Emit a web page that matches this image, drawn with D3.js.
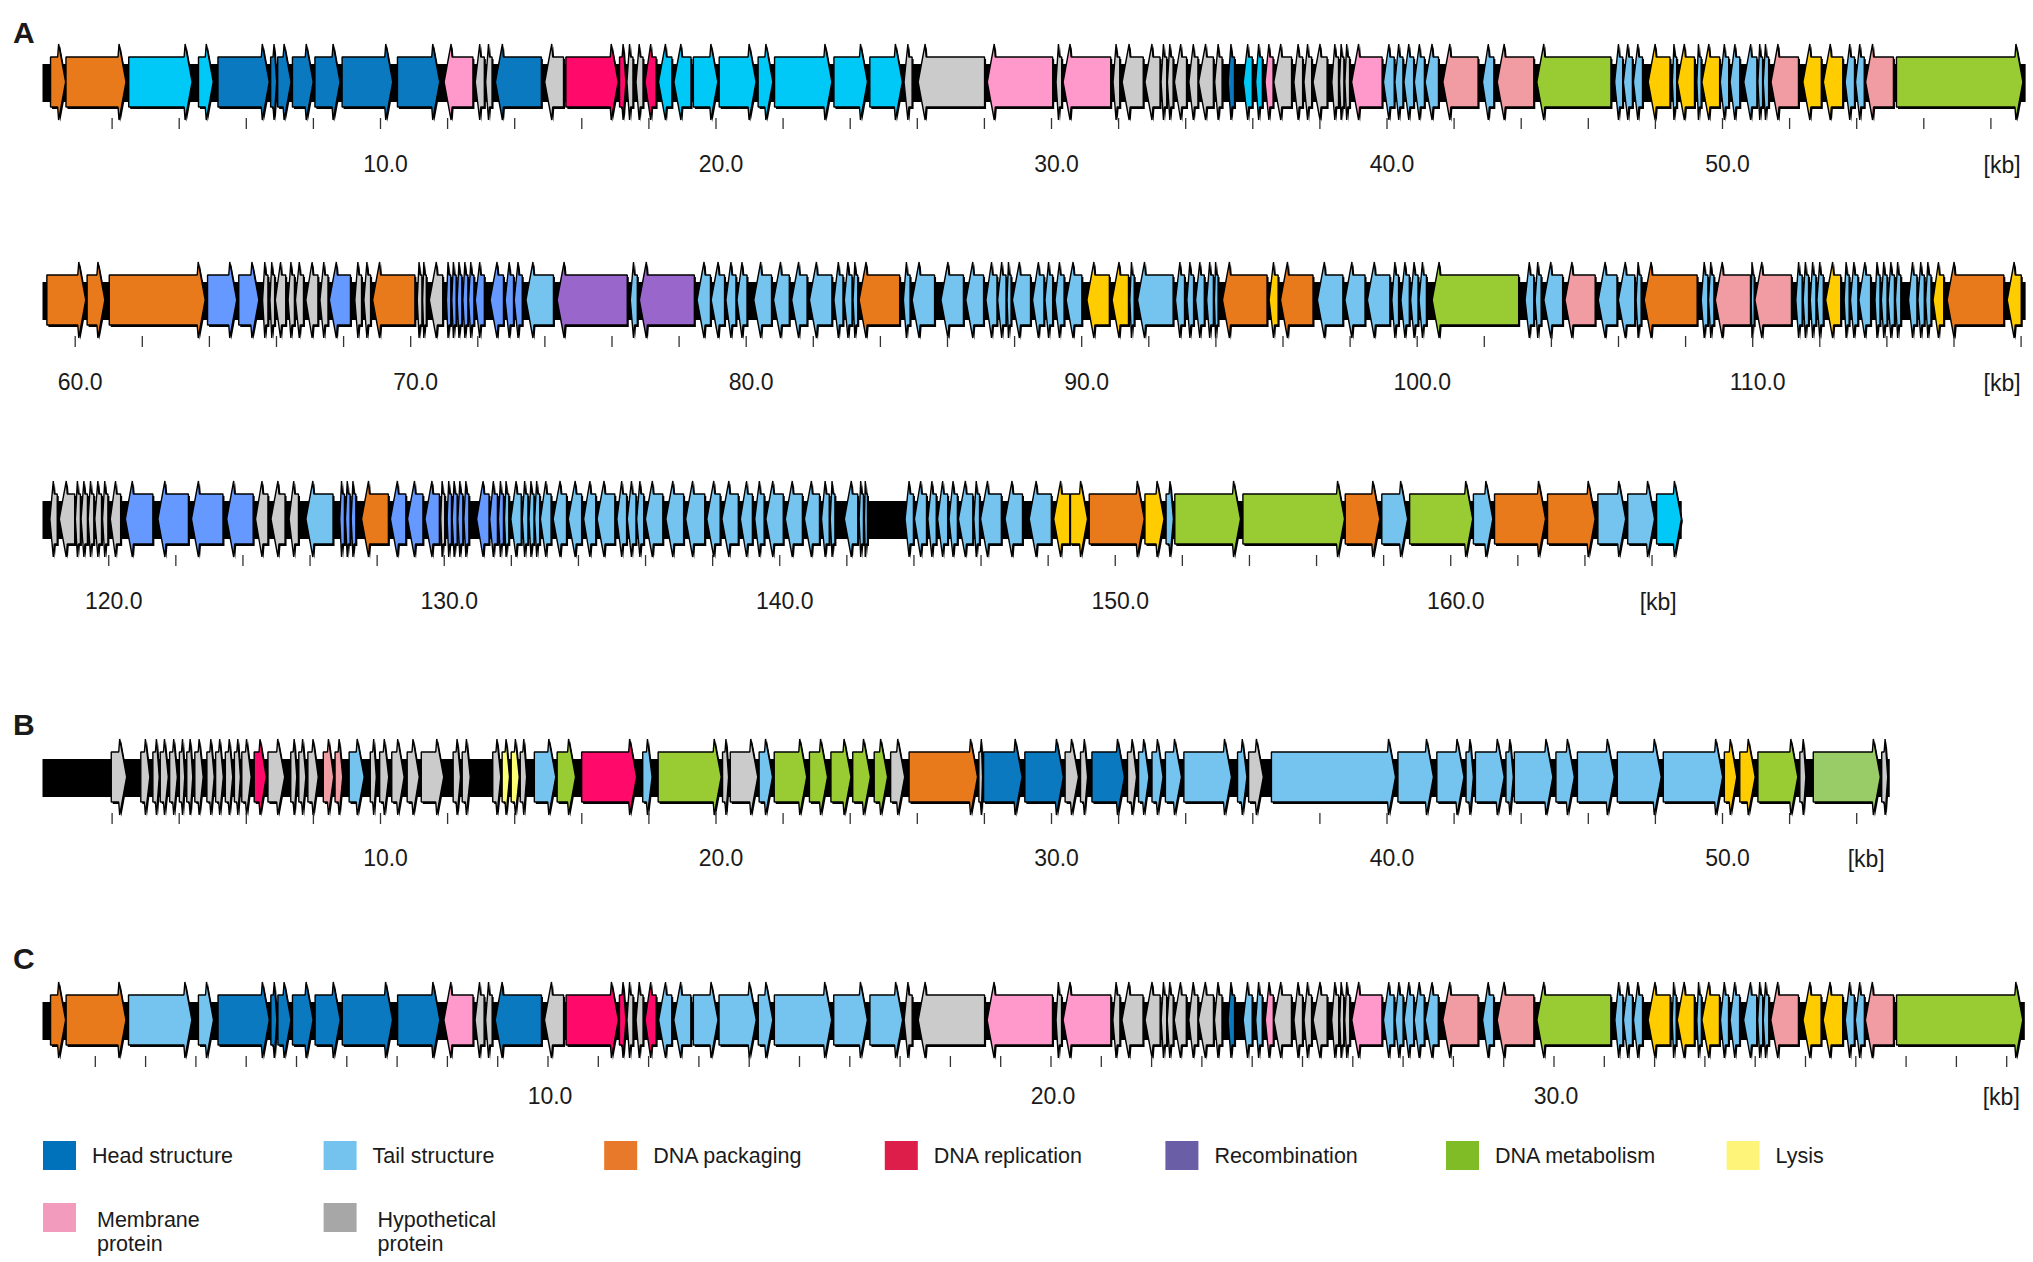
<!DOCTYPE html>
<html>
<head>
<meta charset="utf-8">
<script src="https://cdn.jsdelivr.net/npm/d3@7"></script>
<style>
  body { margin: 0; background: #fff; }
  svg { display: block; }
  text { font-family: "Liberation Sans", Arial, sans-serif; fill: #1a1a1a; }
</style>
</head>
<body>
<svg id="map" width="2033" height="1262"></svg>
<script>
// gene categories: fill used on the map
const geneFill = {
  pk: '#e87a1c', hd: '#0a79bf', tc: '#00c8f7', tl: '#74c4ef', cf: '#6699ff',
  rc: '#9966cc', rp: '#ff0a6a', mb: '#ff99cc', sm: '#f09ca2', hy: '#cbcbcb',
  mt: '#99cc33', m2: '#99cc66', ly: '#ffcc00', l2: '#ffff73'
};

// legend
const legendLabels = ['Head structure', 'Tail structure', 'DNA packaging', 'DNA replication',
  'Recombination', 'DNA metabolism', 'Lysis', 'Membrane\nprotein', 'Hypothetical\nprotein'];
const legendColors = ['#0072bc', '#74c3ef', '#e8792b', '#dd1d4a', '#6a5ea6', '#80bc26',
  '#fff47a', '#f29bbd', '#a7a7a7'];

// genome A, [start kb, end kb, strand, category]
const genesA = [
  [0.18,0.63,1,'pk'],[0.64,2.43,1,'pk'],[2.51,4.40,1,'tc'],[4.59,5.03,1,'tc'],[5.17,6.70,1,'hd'],
  [6.74,6.92,1,'hd'],[6.95,7.35,1,'hd'],[7.39,8.01,1,'hd'],[8.06,8.81,1,'hd'],[8.87,10.38,1,'hd'],
  [10.52,11.78,1,'hd'],[11.91,12.77,-1,'mb'],[12.84,13.11,-1,'hy'],[13.15,13.34,-1,'hy'],[13.44,14.81,-1,'hd'],
  [14.91,15.47,-1,'hy'],[15.54,17.10,1,'rp'],[17.14,17.33,1,'rp'],[17.36,17.54,-1,'hy'],[17.63,17.84,-1,'hy'],
  [17.90,18.23,-1,'rp'],[18.30,18.70,-1,'tc'],[18.76,19.27,-1,'tc'],[19.34,20.07,1,'tc'],[20.11,21.21,1,'tc'],
  [21.27,21.71,1,'tc'],[21.76,23.47,1,'tc'],[23.53,24.53,1,'tc'],[24.60,25.57,1,'tc'],[25.62,25.86,-1,'hy'],
  [26.04,28.02,-1,'hy'],[28.10,30.05,-1,'mb'],[30.15,30.32,-1,'hy'],[30.36,31.78,-1,'mb'],[31.85,32.05,-1,'hy'],
  [32.12,32.75,-1,'hy'],[32.80,33.25,-1,'hy'],[33.28,33.45,-1,'hy'],[33.47,33.64,-1,'hy'],[33.68,34.04,-1,'hy'],
  [34.11,34.38,-1,'hy'],[34.40,34.84,-1,'hy'],[34.88,35.10,-1,'hy'],[35.28,35.47,-1,'hd'],[35.73,36.00,-1,'tc'],
  [36.10,36.30,-1,'tc'],[36.38,36.62,-1,'mb'],[36.64,37.17,-1,'hy'],[37.24,37.50,-1,'hy'],[37.54,37.77,-1,'hy'],
  [37.81,38.23,-1,'hy'],[38.37,38.57,-1,'hy'],[38.60,38.73,-1,'hy'],[38.76,38.90,-1,'hy'],[38.96,39.87,-1,'mb'],
  [39.91,40.23,-1,'tl'],[40.25,40.49,-1,'tl'],[40.52,40.81,-1,'tl'],[40.83,41.13,-1,'tl'],[41.15,41.55,-1,'tl'],
  [41.68,42.73,-1,'sm'],[42.86,43.20,-1,'tl'],[43.30,44.39,-1,'sm'],[44.48,46.69,-1,'mt'],[46.80,47.04,-1,'tl'],
  [47.06,47.33,-1,'tl'],[47.36,47.63,-1,'tl'],[47.80,48.45,-1,'ly'],[48.52,48.65,-1,'tl'],[48.67,49.18,-1,'ly'],
  [49.25,49.38,-1,'tl'],[49.40,49.93,-1,'ly'],[49.95,50.20,-1,'tl'],[50.24,50.53,-1,'tl'],[50.65,51.04,-1,'tl'],
  [51.07,51.21,-1,'tl'],[51.23,51.39,-1,'tl'],[51.46,52.28,-1,'sm'],[52.41,52.96,-1,'ly'],[53.02,53.60,-1,'ly'],
  [53.67,53.95,-1,'tl'],[53.98,54.24,-1,'tl'],[54.28,55.11,-1,'sm'],[55.20,58.97,1,'mt'],
  // second line
  [59.17,60.33,1,'pk'],[60.37,60.90,1,'pk'],[61.03,63.89,1,'pk'],[63.96,64.83,1,'cf'],[64.89,65.49,1,'cf'],
  [65.60,65.76,-1,'hy'],[65.82,65.96,-1,'hy'],[65.98,66.29,-1,'hy'],[66.36,66.55,-1,'hy'],[66.58,66.82,-1,'hy'],
  [66.89,67.25,-1,'hy'],[67.31,67.55,-1,'hy'],[67.59,68.22,-1,'cf'],[68.35,68.55,-1,'hy'],[68.62,68.82,-1,'hy'],
  [68.88,70.14,-1,'pk'],[70.21,70.35,-1,'hy'],[70.37,70.48,-1,'hy'],[70.57,70.97,-1,'hy'],[71.08,71.21,-1,'cf'],
  [71.24,71.37,-1,'cf'],[71.40,71.54,-1,'cf'],[71.57,71.72,-1,'cf'],[71.74,71.90,-1,'cf'],[71.94,72.21,-1,'cf'],
  [72.38,72.78,-1,'cf'],[72.83,73.08,-1,'cf'],[73.10,73.34,-1,'cf'],[73.45,74.27,-1,'tl'],[74.38,76.47,-1,'rc'],
  [76.56,76.77,-1,'tl'],[76.83,78.47,-1,'rc'],[78.55,78.95,-1,'tl'],[78.97,79.37,-1,'tl'],[79.41,79.71,-1,'tl'],
  [79.74,80.04,-1,'tl'],[80.24,80.77,-1,'tl'],[80.83,81.30,-1,'tl'],[81.37,81.83,-1,'tl'],[81.90,82.57,-1,'tl'],
  [82.63,82.90,-1,'tl'],[82.94,83.17,-1,'tl'],[83.20,83.34,-1,'tl'],[83.38,84.59,-1,'pk'],[84.70,84.90,-1,'tl'],
  [84.96,85.63,-1,'tl'],[85.82,86.49,-1,'tl'],[86.56,87.09,-1,'tl'],[87.16,87.49,-1,'tl'],[87.51,87.76,-1,'tl'],
  [87.79,87.91,-1,'tl'],[87.95,88.49,-1,'tl'],[88.55,88.89,-1,'tl'],[88.92,89.15,-1,'tl'],[89.22,89.49,-1,'tl'],
  [89.55,90.02,-1,'tl'],[90.17,90.84,-1,'ly'],[90.92,91.41,-1,'ly'],[91.45,91.58,-1,'tl'],[91.68,92.74,-1,'tl'],
  [92.81,93.08,-1,'tl'],[93.15,93.35,-1,'tl'],[93.41,93.67,-1,'tl'],[93.74,93.94,-1,'tl'],[93.97,94.08,-1,'tl'],
  [94.21,95.54,-1,'pk'],[95.60,95.87,-1,'ly'],[95.94,96.91,-1,'pk'],[97.04,97.80,-1,'tl'],[97.86,98.46,-1,'tl'],
  [98.53,99.20,-1,'tl'],[99.26,99.46,-1,'tl'],[99.53,99.78,-1,'tl'],[99.82,100.04,-1,'tl'],[100.07,100.29,-1,'tl'],
  [100.46,103.04,-1,'mt'],[103.23,103.49,-1,'tl'],[103.53,103.71,-1,'tl'],[103.79,104.35,-1,'tl'],[104.42,105.32,-1,'sm'],
  [105.41,105.97,-1,'tl'],[106.01,106.50,-1,'tl'],[106.54,106.69,-1,'tl'],[106.78,108.36,-1,'pk'],[108.48,108.68,-1,'tl'],
  [108.70,108.86,-1,'tl'],[108.90,109.95,-1,'sm'],[109.97,110.06,-1,'tl'],[110.08,111.17,-1,'sm'],[111.30,111.49,-1,'tl'],
  [111.52,111.68,-1,'tl'],[111.73,111.90,-1,'tl'],[111.93,112.12,-1,'tl'],[112.19,112.64,-1,'ly'],[112.74,112.89,-1,'tl'],
  [112.93,113.15,-1,'tl'],[113.18,113.53,-1,'tl'],[113.66,113.81,-1,'tl'],[113.85,114.02,-1,'tl'],[114.05,114.24,-1,'tl'],
  [114.27,114.43,-1,'tl'],[114.66,114.91,-1,'tl'],[114.94,115.13,-1,'tl'],[115.17,115.33,-1,'tl'],[115.39,115.71,-1,'ly'],
  [115.81,117.50,-1,'pk'],[117.60,118.02,-1,'ly'],
  // third line
  [118.26,118.48,-1,'hy'],[118.54,119.00,-1,'hy'],[119.02,119.17,-1,'hy'],[119.19,119.38,-1,'hy'],[119.40,119.57,-1,'hy'],
  [119.60,119.80,-1,'hy'],[119.83,119.99,-1,'hy'],[120.06,120.37,-1,'hy'],[120.51,121.33,-1,'cf'],[121.48,122.39,-1,'cf'],
  [122.48,123.42,-1,'cf'],[123.53,124.32,-1,'cf'],[124.39,124.76,-1,'hy'],[124.85,125.27,-1,'hy'],[125.39,125.67,-1,'hy'],
  [125.89,126.70,-1,'tl'],[126.90,127.04,-1,'cf'],[127.07,127.21,-1,'cf'],[127.24,127.38,-1,'cf'],[127.55,128.35,-1,'pk'],
  [128.41,128.87,-1,'cf'],[128.92,129.38,-1,'cf'],[129.44,129.87,-1,'cf'],[129.91,130.03,-1,'hy'],[130.10,130.23,-1,'cf'],
  [130.25,130.40,-1,'cf'],[130.42,130.57,-1,'cf'],[130.60,130.75,-1,'cf'],[130.98,131.35,-1,'cf'],[131.37,131.60,-1,'cf'],
  [131.63,131.78,-1,'cf'],[131.81,131.94,-1,'tl'],[132.00,132.31,-1,'tl'],[132.34,132.51,-1,'tl'],[132.54,132.69,-1,'tl'],
  [132.71,132.86,-1,'tl'],[132.88,133.20,-1,'tl'],[133.26,133.66,-1,'tl'],[133.71,134.11,-1,'tl'],[134.17,134.53,-1,'tl'],
  [134.57,135.10,-1,'tl'],[135.16,135.45,-1,'tl'],[135.47,135.73,-1,'tl'],[135.75,135.96,-1,'tl'],[136.01,136.53,-1,'tl'],
  [136.62,137.15,-1,'tl'],[137.21,137.78,-1,'tl'],[137.84,138.24,-1,'tl'],[138.29,138.78,-1,'tl'],[138.84,139.20,-1,'tl'],
  [139.27,139.55,-1,'tl'],[139.60,140.12,-1,'tl'],[140.18,140.69,-1,'tl'],[140.75,141.20,-1,'tl'],[141.26,141.49,-1,'tl'],
  [141.52,141.66,-1,'tl'],[141.94,142.34,-1,'tl'],[142.38,142.51,-1,'tl'],[142.54,142.63,-1,'tl'],[143.75,144.00,-1,'tl'],
  [144.03,144.39,-1,'tl'],[144.43,144.68,-1,'tl'],[144.72,145.02,-1,'tl'],[145.06,145.31,-1,'tl'],[145.34,145.77,-1,'tl'],
  [145.80,145.97,-1,'tl'],[146.00,146.62,-1,'tl'],[146.73,147.25,-1,'tl'],[147.45,148.11,-1,'tl'],[148.18,148.66,-1,'ly'],
  [148.68,149.19,1,'ly'],[149.24,150.88,1,'pk'],[150.90,151.47,1,'ly'],[151.53,151.75,1,'tl'],[151.79,153.75,1,'mt'],
  [153.82,156.85,1,'mt'],[156.87,157.90,1,'pk'],[157.96,158.73,1,'tl'],[158.79,160.67,1,'mt'],[160.69,161.27,1,'tl'],
  [161.32,162.84,1,'pk'],[162.90,164.32,1,'pk'],[164.40,165.23,1,'tl'],[165.29,166.09,1,'tl'],[166.15,166.89,1,'tc']
];

const genesB = [
  [1.99,2.45,1,'hy'],[2.87,3.14,1,'hy'],[3.23,3.42,1,'hy'],[3.45,3.69,1,'hy'],[3.73,3.96,1,'hy'],
  [4.02,4.18,1,'hy'],[4.24,4.42,1,'hy'],[4.48,4.73,1,'hy'],[4.84,5.06,1,'hy'],[5.10,5.33,1,'hy'],
  [5.39,5.61,1,'hy'],[5.66,5.84,1,'hy'],[5.88,6.16,1,'hy'],[6.25,6.61,1,'rp'],[6.66,7.16,1,'hy'],
  [7.34,7.52,1,'hy'],[7.58,7.79,1,'hy'],[7.85,8.16,1,'hy'],[8.31,8.62,1,'sm'],[8.66,8.89,1,'sm'],
  [9.08,9.53,1,'tl'],[9.71,9.89,1,'hy'],[9.99,10.26,1,'hy'],[10.35,10.72,1,'hy'],[10.81,11.17,1,'hy'],
  [11.23,11.90,1,'hy'],[12.18,12.40,1,'hy'],[12.45,12.69,1,'hy'],[13.36,13.60,1,'hy'],[13.64,13.86,1,'l2'],
  [13.91,14.15,1,'l2'],[14.18,14.37,1,'hy'],[14.60,15.24,1,'tl'],[15.28,15.83,1,'mt'],[16.01,17.65,1,'rp'],
  [17.83,18.11,1,'tl'],[18.29,20.17,1,'mt'],[20.21,20.39,1,'hy'],[20.44,21.26,1,'hy'],[21.30,21.70,1,'tl'],
  [21.75,22.72,1,'mt'],[22.80,23.34,1,'mt'],[23.44,24.04,1,'mt'],[24.09,24.62,1,'mt'],[24.73,25.13,1,'mt'],
  [25.22,25.64,1,'hy'],[25.77,27.81,1,'pk'],[27.85,27.96,1,'hy'],[27.99,29.14,1,'hd'],[29.22,30.37,1,'hd'],
  [30.42,30.82,1,'hy'],[30.88,31.09,1,'hy'],[31.22,32.19,1,'hd'],[32.28,32.55,1,'hy'],[32.61,32.92,1,'tl'],
  [33.01,33.34,1,'tl'],[33.41,33.89,1,'tl'],[33.96,35.38,1,'tl'],[35.56,35.84,1,'tl'],[35.89,36.33,1,'hy'],
  [36.57,40.27,1,'tl'],[40.34,41.40,1,'tl'],[41.50,42.31,1,'tl'],[42.37,42.59,1,'tl'],[42.65,43.51,1,'tl'],
  [43.56,43.78,1,'tl'],[43.81,44.96,1,'tl'],[45.05,45.60,1,'tl'],[45.69,46.79,1,'tl'],[46.88,48.19,1,'tl'],
  [48.25,50.02,1,'tl'],[50.07,50.44,1,'ly'],[50.53,50.99,1,'ly'],[51.07,52.26,1,'mt'],[52.32,52.50,1,'hy'],
  [52.72,54.72,1,'m2'],[54.76,54.94,1,'hy']
];

const genesC = [
  [0.12,0.42,1,'pk'],[0.43,1.62,1,'pk'],[1.67,2.93,1,'tl'],[3.06,3.36,1,'tl'],[3.45,4.47,1,'hd'],
  [4.50,4.62,1,'hd'],[4.64,4.90,1,'hd'],[4.93,5.34,1,'hd'],[5.38,5.88,1,'hd'],[5.92,6.92,1,'hd'],
  [7.02,7.86,1,'hd'],[7.94,8.52,-1,'mb'],[8.56,8.74,-1,'hy'],[8.77,8.90,-1,'hy'],[8.96,9.88,-1,'hd'],
  [9.94,10.32,-1,'hy'],[10.37,11.41,1,'rp'],[11.43,11.56,1,'rp'],[11.58,11.70,-1,'hy'],[11.76,11.90,-1,'hy'],
  [11.94,12.16,-1,'rp'],[12.21,12.47,-1,'tl'],[12.51,12.85,-1,'tl'],[12.90,13.39,1,'tl'],[13.41,14.15,1,'tl'],
  [14.19,14.48,1,'tl'],[14.51,15.65,1,'tl'],[15.69,16.36,1,'tl'],[16.41,17.06,1,'tl'],[17.09,17.25,-1,'hy'],
  [17.37,18.69,-1,'hy'],[18.74,20.04,-1,'mb'],[20.11,20.22,-1,'hy'],[20.25,21.20,-1,'mb'],[21.24,21.38,-1,'hy'],
  [21.42,21.84,-1,'hy'],[21.88,22.18,-1,'hy'],[22.20,22.31,-1,'hy'],[22.32,22.44,-1,'hy'],[22.46,22.70,-1,'hy'],
  [22.75,22.93,-1,'hy'],[22.94,23.24,-1,'hy'],[23.26,23.41,-1,'hy'],[23.53,23.66,-1,'hd'],[23.83,24.01,-1,'tl'],
  [24.08,24.21,-1,'tl'],[24.27,24.43,-1,'mb'],[24.44,24.79,-1,'hy'],[24.84,25.01,-1,'hy'],[25.04,25.19,-1,'hy'],
  [25.22,25.50,-1,'hy'],[25.59,25.73,-1,'hy'],[25.75,25.83,-1,'hy'],[25.85,25.95,-1,'hy'],[25.99,26.59,-1,'mb'],
  [26.62,26.83,-1,'tl'],[26.85,27.01,-1,'tl'],[27.03,27.22,-1,'tl'],[27.23,27.43,-1,'tl'],[27.45,27.71,-1,'tl'],
  [27.80,28.50,-1,'sm'],[28.59,28.81,-1,'tl'],[28.88,29.61,-1,'sm'],[29.67,31.14,-1,'mt'],[31.22,31.38,-1,'tl'],
  [31.39,31.57,-1,'tl'],[31.59,31.77,-1,'tl'],[31.88,32.32,-1,'ly'],[32.36,32.44,-1,'tl'],[32.46,32.80,-1,'ly'],
  [32.85,32.94,-1,'tl'],[32.95,33.30,-1,'ly'],[33.32,33.48,-1,'tl'],[33.51,33.70,-1,'tl'],[33.78,34.04,-1,'tl'],
  [34.06,34.16,-1,'tl'],[34.17,34.28,-1,'tl'],[34.32,34.87,-1,'sm'],[34.96,35.32,-1,'ly'],[35.36,35.75,-1,'ly'],
  [35.80,35.98,-1,'tl'],[36.00,36.18,-1,'tl'],[36.20,36.76,-1,'sm'],[36.82,39.33,1,'mt']
];

// axis labels (kb)
const labelsA = [10, 20, 30, 40, 50, 60, 70, 80, 90, 100, 110, 120, 130, 140, 150, 160];
const labelsB = [10, 20, 30, 40, 50];
const labelsC = [10, 20, 30];

// each drawn line: [first kb, last kb]
const linesA = [[0, 59.05], [59.1, 118.15], [118.1, 166.9]];
const linesB = [[0, 55.0]];
const linesC = [[0, 39.37]];

const svg = d3.select('#map');
const X0 = 44.5;
const H = 25, E = 13, HEAD = 8;

function genePath(xa, xb, strand, c) {
  const w = xb - xa;
  const h = Math.min(HEAD, w * 0.6);
  let pts;
  if (strand > 0) {
    const xh = xb - h;
    pts = [[xa, c - H], [xh, c - H], [xh + 1, c - H - E], [xb, c], [xh + 1, c + H + E], [xh, c + H], [xa, c + H]];
  } else {
    const xh = xa + h;
    pts = [[xb, c - H], [xh, c - H], [xh - 1, c - H - E], [xa, c], [xh - 1, c + H + E], [xh, c + H], [xb, c + H]];
  }
  return d3.line()(pts) + 'Z';
}

function drawLine(genes, from, to, cy, pxPerKb, minor, labels, labelDy, labelDx) {
  const x = d3.scaleLinear().domain([from, from + 1]).range([X0, X0 + pxPerKb]);
  const g = svg.append('g');
  const xEnd = x(to);

  g.append('rect')
    .attr('x', x(from) - 2).attr('y', cy - 18)
    .attr('width', xEnd - x(from) + 2).attr('height', 38)
    .attr('fill', '#000');

  const sub = genes.filter(d => d[0] >= from && d[1] <= to + 0.01);
  g.selectAll('path.shadow').data(sub).join('path')
    .attr('class', 'shadow')
    .attr('d', d => genePath(x(d[0]), x(d[1]), d[2], cy))
    .attr('transform', 'translate(1.5,2)')
    .attr('fill', '#000');
  g.selectAll('path.gene').data(sub).join('path')
    .attr('class', 'gene')
    .attr('d', d => genePath(x(d[0]), x(d[1]), d[2], cy))
    .attr('fill', d => geneFill[d[3]])
    .attr('stroke', '#000')
    .attr('stroke-width', 1.4)
    .attr('stroke-linejoin', 'bevel');

  const first = Math.ceil((from + 0.01) / minor) * minor;
  const ticks = d3.range(first, to + 0.001, minor);
  const tickAxis = d3.axisBottom(x).tickValues(ticks).tickFormat('').tickSizeOuter(0).tickSizeInner(11);
  const ta = g.append('g').attr('transform', `translate(0,${cy + 36})`).call(tickAxis);
  ta.select('.domain').remove();
  ta.selectAll('line').attr('stroke', '#333').attr('stroke-width', 1.3);

  const labAxis = d3.axisBottom(x)
    .tickValues(labels.filter(v => v > from && v <= to))
    .tickFormat(d3.format('.1f')).tickSize(0).tickPadding(0);
  const la = g.append('g').attr('transform', `translate(${labelDx},${cy + labelDy})`).call(labAxis);
  la.select('.domain').remove();
  la.selectAll('text').attr('font-size', 23).attr('fill', '#1a1a1a')
    .attr('font-family', '"Liberation Sans", Arial, sans-serif');

  g.append('text')
    .attr('x', xEnd - 5).attr('y', cy + labelDy + 17)
    .attr('text-anchor', 'end').attr('font-size', 23)
    .text('[kb]');
}

function panelLabel(txt, y) {
  svg.append('text').attr('x', 13).attr('y', y)
    .attr('font-size', 30).attr('font-weight', 'bold').text(txt);
}

// A: three lines
const yA = [82, 300, 519];
linesA.forEach((l, i) => drawLine(genesA, l[0], l[1], yA[i], 33.55, 2, labelsA, 74, 5));
panelLabel('A', 43);

// B
linesB.forEach(l => drawLine(genesB, l[0], l[1], 777, 33.55, 2, labelsB, 73, 5));
panelLabel('B', 735);

// C
linesC.forEach(l => drawLine(genesC, l[0], l[1], 1020, 50.3, 1, labelsC, 68, 2));
panelLabel('C', 969);

// legend
const leg = svg.append('g');
legendLabels.forEach((lab, i) => {
  const col = i % 7, row = Math.floor(i / 7);
  const lx = 43 + col * 280.6;
  const ly = 1141 + row * 62;
  leg.append('rect').attr('x', lx).attr('y', ly).attr('width', 33).attr('height', 29)
    .attr('fill', legendColors[i]);
  const parts = lab.split('\n');
  const tx = lx + (row ? 54 : 49);
  const t = leg.append('text').attr('font-size', 21.5)
    .attr('x', tx)
    .attr('y', parts.length > 1 ? ly + 24 : ly + 22);
  parts.forEach((p, k) => {
    t.append('tspan').attr('x', tx).attr('dy', k ? 24 : 0).text(p);
  });
});
</script>
</body>
</html>
